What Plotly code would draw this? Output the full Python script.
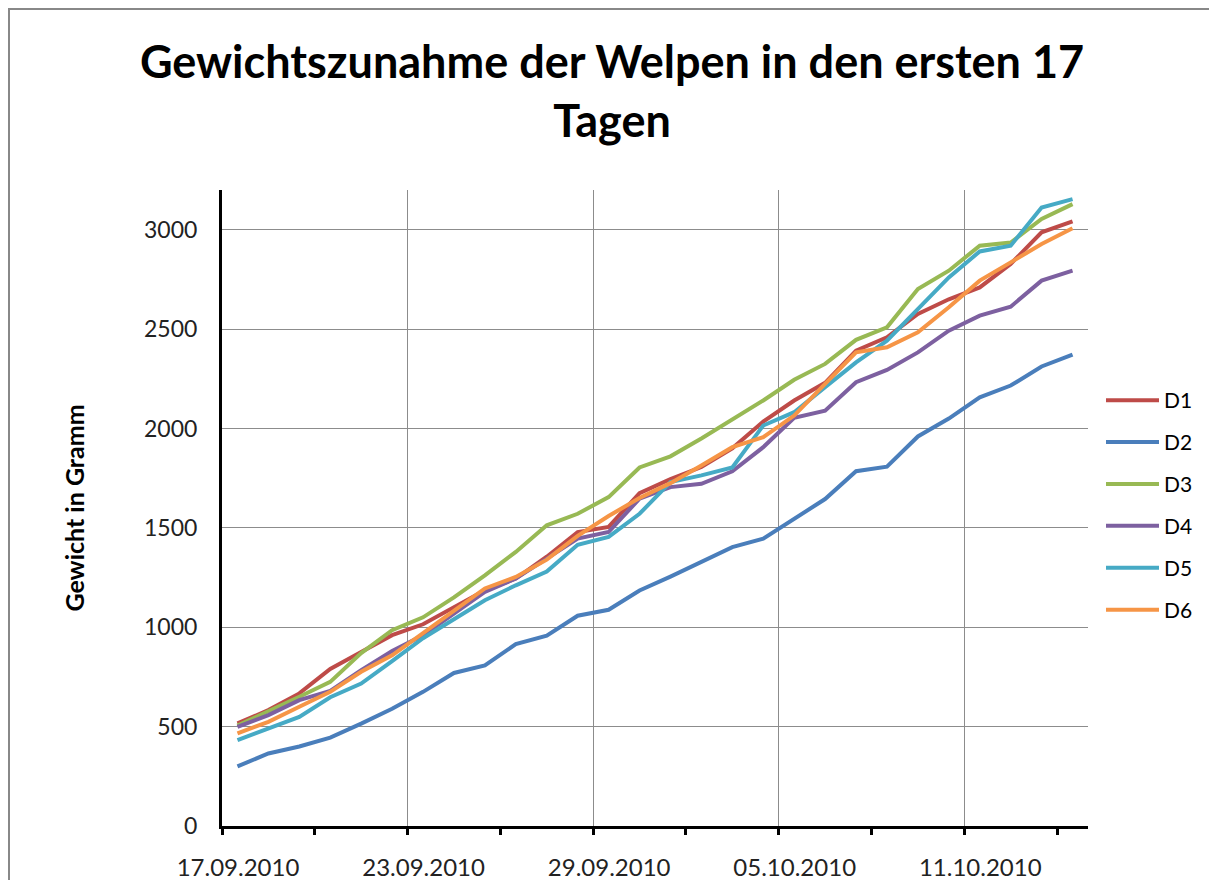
import plotly.graph_objects as go
import pandas as pd

# ---- data -------------------------------------------------------------
dates = ["2010-09-17", "2010-09-18", "2010-09-19", "2010-09-20", "2010-09-21",
         "2010-09-22", "2010-09-23", "2010-09-24", "2010-09-25", "2010-09-26",
         "2010-09-27", "2010-09-28", "2010-09-29", "2010-09-30", "2010-10-01",
         "2010-10-02", "2010-10-03", "2010-10-04", "2010-10-05", "2010-10-06",
         "2010-10-07", "2010-10-08", "2010-10-09", "2010-10-10", "2010-10-11",
         "2010-10-12", "2010-10-13", "2010-10-14"]

D1 = [516, 583, 667, 790, 876, 960, 1015, 1100, 1186, 1245, 1355, 1479, 1505, 1675,
      1745, 1806, 1900, 2035, 2141, 2230, 2392, 2459, 2576, 2650, 2710, 2828, 2987, 3042]
D2 = [300, 365, 400, 445, 515, 590, 675, 770, 808, 915, 958, 1058, 1088, 1185,
      1255, 1328, 1403, 1446, 1545, 1645, 1785, 1808, 1960, 2050, 2157, 2216, 2312, 2372]
D3 = [505, 575, 650, 725, 870, 985, 1050, 1150, 1261, 1379, 1513, 1571, 1655, 1804,
      1860, 1950, 2045, 2141, 2245, 2325, 2446, 2509, 2702, 2794, 2920, 2936, 3054, 3129]
D4 = [499, 558, 633, 680, 784, 880, 960, 1070, 1178, 1245, 1345, 1446, 1479, 1647,
      1705, 1722, 1785, 1906, 2054, 2090, 2233, 2295, 2383, 2492, 2568, 2613, 2744, 2794]
D5 = [432, 491, 549, 648, 717, 830, 945, 1040, 1136, 1211, 1280, 1415, 1455, 1571,
      1730, 1764, 1804, 2015, 2082, 2208, 2333, 2442, 2601, 2760, 2891, 2920, 3112, 3154]
D6 = [466, 524, 600, 675, 776, 859, 970, 1080, 1195, 1253, 1340, 1460, 1560, 1650,
      1725, 1814, 1906, 1956, 2065, 2225, 2383, 2409, 2484, 2610, 2744, 2836, 2928, 3008]

series_names = ["D1", "D2", "D3", "D4", "D5", "D6"]
series_values = [D1, D2, D3, D4, D5, D6]
colors = ["#BE4B48", "#4A7EBB", "#98B954", "#7D60A0", "#46AAC5", "#F69546"]

title_text = "Gewichtszunahme der Welpen in den ersten 17<br>Tagen"
y_title = "Gewicht in Gramm"

# ---- figure -----------------------------------------------------------
FONT = "Lato"
# points sit in the middle of each day (Excel date axis, between tick marks)
x_vals = pd.to_datetime(dates) + pd.Timedelta(hours=12)

fig = go.Figure()
for name, vals, col in zip(series_names, series_values, colors):
    fig.add_trace(go.Scatter(
        x=x_vals, y=vals, name=name, mode="lines",
        line=dict(color=col, width=4),
        legendgroup=name,
    ))

# page body has an 8px margin, so the figure starts at (8, 8) on screen
W, H = 1201, 872
ML, MR, MT, MB = 214, 121, 182, 54
PW, PH = W - ML - MR, H - MT - MB

def px_x(p):
    return (p - ML) / PW

def px_y(p):
    return (H - MB - p) / PH

DAY = 86400000
fig.update_layout(
    width=W, height=H,
    margin=dict(l=ML, r=MR, t=MT, b=MB, pad=0, autoexpand=False),
    paper_bgcolor="white", plot_bgcolor="white",
    font=dict(family=FONT, color="#222222"),
    title=dict(text=title_text, x=604 / W, xanchor="center", xref="container",
               y=1 - 70 / H, yanchor="middle", yref="container",
               font=dict(family=FONT, size=45, color="black", weight="bold")),
    showlegend=True,
    legend=dict(x=px_x(1093), xanchor="left", y=px_y(497), yanchor="middle",
                font=dict(family=FONT, size=21, color="black"),
                itemwidth=53, tracegroupgap=11.6, bgcolor="rgba(0,0,0,0)"),
    xaxis=dict(
        type="date",
        range=["2010-09-17", "2010-10-15"],
        tick0="2010-09-17", dtick=6 * DAY,
        tickformat="%d.%m.%Y",
        ticks="outside", ticklen=6, tickwidth=3, tickcolor="black",
        ticklabelshift=16, ticklabelstandoff=12,
        tickfont=dict(family=FONT, size=24, color="#222222"),
        showgrid=True, gridcolor="#8c8c8c", gridwidth=1,
        showline=True, linecolor="black", linewidth=3,
        minor=dict(tick0="2010-09-17", dtick=3 * DAY, ticks="outside",
                   ticklen=6, tickwidth=3, tickcolor="black", showgrid=False),
        zeroline=False, fixedrange=True, automargin=False,
    ),
    yaxis=dict(
        range=[0, 3200], dtick=500, tick0=0,
        ticks="", ticklabelstandoff=17,
        tickfont=dict(family=FONT, size=23, color="#222222"),
        showgrid=True, gridcolor="#8c8c8c", gridwidth=1,
        showline=True, linecolor="black", linewidth=3,
        zeroline=False, automargin=False,
        title=dict(text="<b>" + y_title + "</b>", standoff=53,
                   font=dict(family=FONT, size=25, color="black")),
    ),
    shapes=[dict(type="rect", xref="paper", yref="paper",
                 x0=px_x(1), x1=px_x(1240), y0=px_y(910), y1=px_y(1),
                 line=dict(color="#888888", width=2), fillcolor="rgba(0,0,0,0)",
                 layer="below")],
)

fig.write_html("out.html")
